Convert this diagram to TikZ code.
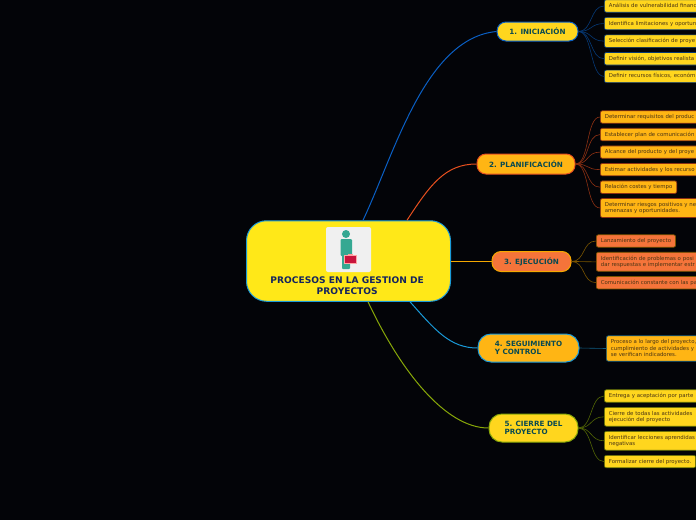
\documentclass[tikz,border=0pt]{standalone}
\usepackage{fontspec}
\setmainfont{DejaVu Sans}
\usepackage{tikz}
\usetikzlibrary{positioning,calc}

\definecolor{bgdark}{HTML}{030408}
\definecolor{rootfill}{HTML}{FFE818}
\definecolor{yellowfill}{HTML}{FFD61E}
\definecolor{amberfill}{HTML}{FFB514}
\definecolor{coralfill}{HTML}{F5743A}
\definecolor{linea}{HTML}{0A5FC4}
\definecolor{lineb}{HTML}{E8501F}
\definecolor{linec}{HTML}{F5A800}
\definecolor{lined}{HTML}{1A9AD8}
\definecolor{linee}{HTML}{88A808}
\definecolor{teal}{HTML}{35A892}
\definecolor{crimson}{HTML}{C8143C}
\definecolor{navytext}{HTML}{14245E}
\definecolor{tealtext}{HTML}{0A4A50}
\definecolor{leaftext}{HTML}{4A3414}

\begin{document}
\begin{tikzpicture}[
    x=1pt, y=-1pt,
    root/.style={draw=lined, line width=1pt, rounded corners=20pt, fill=rootfill,
                 minimum width=204pt, minimum height=80.5pt, inner sep=0pt},
    title/.style={font=\bfseries\fontsize{9.1}{11}\selectfont, text=navytext, align=center, inner sep=0pt},
    branch/.style={line width=1pt, rounded corners=9pt, inner sep=0pt, align=left,
                   font=\bfseries\fontsize{7.2}{8.6}\selectfont, text=tealtext},
    leaf/.style={rounded corners=2pt, line width=0.7pt, anchor=west, align=left, inner ysep=3.5pt,
                 inner xsep=4.5pt, font=\fontsize{5.4}{6.5}\selectfont, text=leaftext,
                 execute at begin node=\rule{0pt}{4.2pt}, execute at end node=\rule[-1.2pt]{0pt}{0pt}},
    wide/.style={text width=110pt},
    next/.style={below=4.4pt of #1.south west, anchor=north west},
    conn/.style={line width=1pt},
    twig/.style={line width=0.6pt}
]
    \fill[bgdark] (0,0) rectangle (696,520);
    \clip (0,0) rectangle (696,520);

    \node[root] (root) at (348.5,261) {};
    \node[fill=black!6, rounded corners=2pt, minimum size=45pt, inner sep=0pt] (icon) at (348.5,249.5) {};
    \node[title, below=4pt of icon, xshift=-1.3pt] (name) {PROCESOS EN LA GESTION DE\\PROYECTOS};

    % person with briefcase
    \fill[teal] (346,234) circle (4);
    \fill[teal, rounded corners=1pt] (340.7,239) rectangle (352,256);
    \fill[teal, rounded corners=1pt] (342,250) rectangle (350,269);
    \draw[red!40, line width=0.7pt] (348,255.5) -- (348,254) -- (352.5,254) -- (352.5,255.5);
    \fill[crimson, draw=red!35, line width=0.5pt] (344.7,255) rectangle (356.7,263.7);

    \node[branch, draw=linea, fill=yellowfill, minimum width=81pt, minimum height=19pt] (b1) at (537.5,31.5) {1. INICIACIÓN};
    \node[branch, draw=lineb, fill=amberfill, minimum width=98pt, minimum height=20pt] (b2) at (526,164) {2. PLANIFICACIÓN};
    \node[branch, draw=linec, fill=coralfill, minimum width=79pt, minimum height=20pt] (b3) at (531.5,261.5) {3. EJECUCIÓN};
    \node[branch, draw=lined, fill=amberfill, minimum width=101pt, minimum height=28pt, rounded corners=13pt] (b4) at (528.5,348) {4. SEGUIMIENTO\\Y CONTROL};
    \node[branch, draw=linee, fill=yellowfill, minimum width=89pt, minimum height=28pt, rounded corners=13pt] (b5) at (533.5,428) {5. CIERRE DEL\\PROYECTO};

    \draw[conn, linea] ([xshift=14.5pt]root.north) .. controls (394,155) and (425,38) .. (b1.west);
    \draw[conn, lineb] ([xshift=58.5pt]root.north) .. controls (430,185) and (445,164) .. (b2.west);
    \draw[conn, linec] (root.east |- b3) -- (b3.west);
    \draw[conn, lined] ([xshift=61.5pt]root.south) .. controls (435,330) and (450,348) .. (b4.west);
    \draw[conn, linee] ([xshift=19.5pt]root.south) .. controls (400,370) and (445,428) .. (b5.west);

    \tikzset{leaf/.append style={draw=linea!60!black, fill=yellowfill}}
    \node[leaf, wide] (a1) at (604,6) {Análisis de vulnerabilidad financ};
    \node[leaf, wide, next=a1] (a2) {Identifica limitaciones y oportun};
    \node[leaf, wide, next=a2] (a3) {Selección clasificación de proye};
    \node[leaf, wide, next=a3] (a4) {Definir visión, objetivos realista};
    \node[leaf, wide, next=a4] (a5) {Definir recursos físicos, económ};

    \tikzset{leaf/.append style={draw=lineb!60!black, fill=amberfill}}
    \node[leaf, wide] (c1) at (600,117) {Determinar requisitos del produc};
    \node[leaf, wide, next=c1] (c2) {Establecer plan de comunicación};
    \node[leaf, wide, next=c2] (c3) {Alcance del producto y del proye};
    \node[leaf, wide, next=c3] (c4) {Estimar actividades y los recurso};
    \node[leaf, next=c4] (c5) {Relación costes y tiempo};
    \node[leaf, wide, next=c5] (c6) {Determinar riesgos positivos y ne\\amenazas y oportunidades.};

    \tikzset{leaf/.append style={draw=linec!50!black, fill=coralfill}}
    \node[leaf] (e1) at (596,241) {Lanzamiento del proyecto};
    \node[leaf, wide, next=e1] (e2) {Identificación de problemas o posi\\dar respuestas e implementar estr};
    \node[leaf, wide, next=e2] (e3) {Comunicación constante con las pa};

    \tikzset{leaf/.append style={draw=lined!60!black, fill=amberfill}}
    \node[leaf, wide] (s1) at (606,348.5) {Proceso a lo largo del proyecto,\\cumplimiento de actividades y\\se verifican indicadores.};

    \tikzset{leaf/.append style={draw=linee!60!black, fill=yellowfill}}
    \node[leaf, wide] (f1) at (604,396) {Entrega y aceptación por parte};
    \node[leaf, wide, next=f1] (f2) {Cierre de todas las actividades\\ejecución del proyecto};
    \node[leaf, wide, next=f2] (f3) {Identificar lecciones aprendidas\\negativas};
    \node[leaf, next=f3] (f4) {Formalizar cierre del proyecto.};

    \foreach \n in {a1,a2,a3,a4,a5}
        \draw[twig, linea!60!black] (b1.east) .. controls ($(b1.east)+(14,0)$) and ($(\n.west)+(-14,0)$) .. (\n.west);
    \foreach \n in {c1,c2,c3,c4,c5,c6}
        \draw[twig, lineb!60!black] (b2.east) .. controls ($(b2.east)+(14,0)$) and ($(\n.west)+(-14,0)$) .. (\n.west);
    \foreach \n in {e1,e2,e3}
        \draw[twig, linec!50!black] (b3.east) .. controls ($(b3.east)+(14,0)$) and ($(\n.west)+(-14,0)$) .. (\n.west);
    \draw[twig, lined!60!black] (b4.east) -- (s1.west);
    \foreach \n in {f1,f2,f3,f4}
        \draw[twig, linee!60!black] (b5.east) .. controls ($(b5.east)+(14,0)$) and ($(\n.west)+(-14,0)$) .. (\n.west);
\end{tikzpicture}
\end{document}
